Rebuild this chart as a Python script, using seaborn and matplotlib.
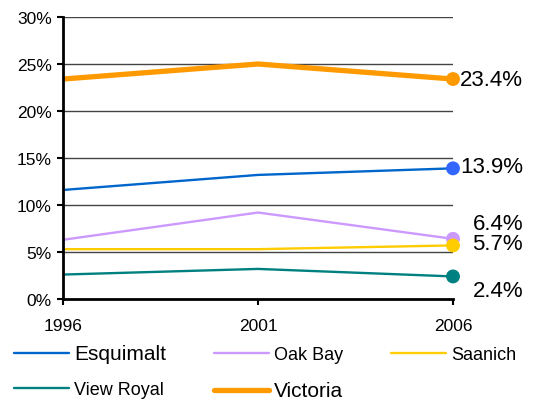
import matplotlib
matplotlib.use("Agg")
import matplotlib.pyplot as plt
import seaborn as sns
import pandas as pd

years = [1996, 2001, 2006]
esquimalt = [11.6, 13.2, 13.9]
oak_bay = [6.3, 9.2, 6.4]
saanich = [5.3, 5.3, 5.7]
view_royal = [2.6, 3.2, 2.4]
victoria = [23.4, 25.0, 23.4]
series_names = ["Esquimalt", "Oak Bay", "Saanich", "View Royal", "Victoria"]
end_labels = ["13.9%", "6.4%", "5.7%", "2.4%", "23.4%"]
y_ticks = [0, 5, 10, 15, 20, 25, 30]
y_tick_labels = ["0%", "5%", "10%", "15%", "20%", "25%", "30%"]

sns.set_theme(style="white")
plt.rcParams["font.family"] = ["Liberation Sans", "DejaVu Sans"]

values = [esquimalt, oak_bay, saanich, view_royal, victoria]
df = pd.DataFrame({
    "year": [y for v in values for y in years],
    "value": [x for v in values for x in v],
    "series": [n for n, v in zip(series_names, values) for _ in years],
})

line_colors = {"Esquimalt": "#0066cc", "Oak Bay": "#cc99ff", "Saanich": "#ffcc00",
               "View Royal": "#008080", "Victoria": "#ff9900"}
marker_colors = {"Esquimalt": "#3366ff", "Oak Bay": "#cc99ff", "Saanich": "#ffcc00",
                 "View Royal": "#008080", "Victoria": "#ff9900"}
widths = {"Esquimalt": 1.7, "Oak Bay": 1.7, "Saanich": 1.7, "View Royal": 1.7, "Victoria": 3.8}
label_dy = {"Esquimalt": 1, "Oak Bay": 11, "Saanich": 1.5, "View Royal": -10, "Victoria": 0}
legend_sizes = {"Esquimalt": 15, "Oak Bay": 13, "Saanich": 13, "View Royal": 13, "Victoria": 15}

fig = plt.figure(figsize=(5.51, 4.06), dpi=100)
ax = fig.add_axes([63/551, 1-300/406, 390/551, 282/406])

handles = {}
for name in series_names:
    sub = df[df["series"] == name]
    sns.lineplot(data=sub, x="year", y="value", ax=ax, color=line_colors[name],
                 linewidth=widths[name], label=name, legend=False, zorder=3)
    handles[name] = ax.lines[-1]
    last = sub[sub["year"] == years[-1]]
    sns.scatterplot(data=last, x="year", y="value", ax=ax, color=marker_colors[name],
                    s=100, edgecolor="none", legend=False, zorder=4, clip_on=False)

for name, lab in zip(series_names, end_labels):
    v = df[(df["series"] == name) & (df["year"] == years[-1])]["value"].iloc[0]
    ax.annotate(lab, xy=(years[-1], v), xytext=(50.4, label_dy[name]),
                textcoords="offset points", ha="right", va="center",
                fontsize=16, color="black", annotation_clip=False)

ax.set_xlim(years[0], years[-1])
ax.set_ylim(0, 30)
ax.set_yticks(y_ticks)
ax.set_yticklabels(y_tick_labels)
ax.set_xticks(years)
ax.set_xticklabels([str(y) for y in years])
ax.set_xlabel("")
ax.set_ylabel("")
for t in y_ticks[1:]:
    ax.axhline(t, color="#444444", linewidth=1.0, zorder=1)
for s in ["top", "right"]:
    ax.spines[s].set_visible(False)
for s in ["left", "bottom"]:
    ax.spines[s].set_color("black")
    ax.spines[s].set_linewidth(2.0)
    ax.spines[s].set_zorder(5)
ax.tick_params(axis="y", which="both", left=True, length=4, width=1.5, color="black",
               pad=4, labelsize=12.5, labelcolor="black")
ax.tick_params(axis="x", which="both", bottom=True, length=4, width=1.5, color="black",
               pad=10, labelsize=12.5, labelcolor="black")

order = ["Esquimalt", "View Royal", "Oak Bay", "Victoria", "Saanich"]
leg = fig.legend([handles[n] for n in order], order, loc="upper left",
                 bbox_to_anchor=(14/551, 1-345/406), ncol=3, frameon=False,
                 fontsize=13, handlelength=3.05, handletextpad=0.28,
                 columnspacing=2.65, labelspacing=1.0, borderpad=0, borderaxespad=0)
for txt in leg.get_texts():
    txt.set_fontsize(legend_sizes[txt.get_text()])
    txt.set_color("black")

fig.savefig("out.png", dpi=100)
